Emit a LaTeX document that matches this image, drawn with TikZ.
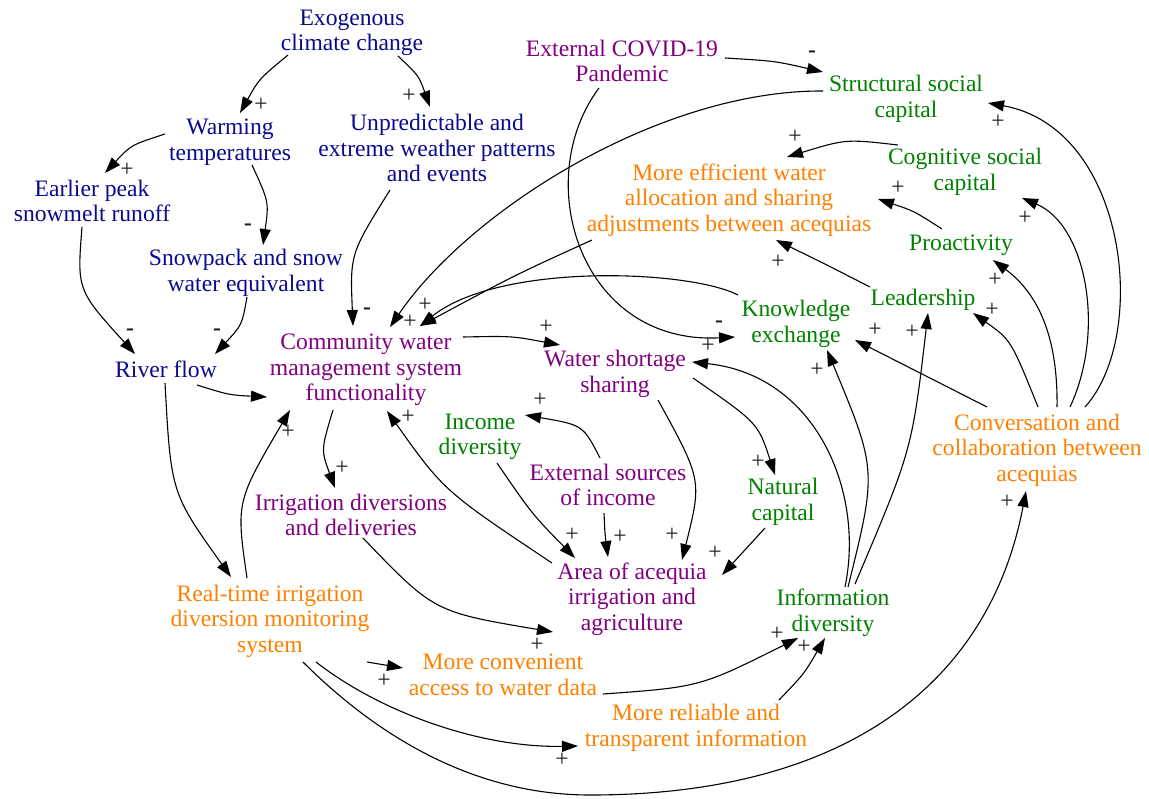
\documentclass[tikz,border=0pt]{standalone}
\usepackage{fontspec}
\setmainfont{Liberation Serif}
\usetikzlibrary{arrows.meta,calc}
\definecolor{cblue}{RGB}{10,10,140}
\definecolor{cpurple}{RGB}{128,0,128}
\definecolor{cgreen}{RGB}{0,128,0}
\definecolor{corange}{RGB}{255,128,0}
\definecolor{csign}{RGB}{30,30,30}
\begin{document}
\begin{tikzpicture}[x=0.5pt,y=-0.5pt,
  var/.style={align=center,inner sep=0pt,font=\fontsize{11.8}{12.8}\selectfont},
  vb/.style={var,text=cblue},
  vp/.style={var,text=cpurple},
  vg/.style={var,text=cgreen},
  vo/.style={var,text=corange},
  sg/.style={inner sep=0pt,text=csign,font=\fontsize{11.8}{12.8}\selectfont},
  lk/.style={draw=black,line width=0.55pt,-{Triangle[length=8pt,width=5.5pt]}}]
\useasboundingbox (0,0) rectangle (1149,798);
% nodes
\node[vb] (exo) at (352,33) {Exogenous\\climate change};
\node[vb] (warm) at (230,142) {Warming\\temperatures};
\node[vb] (unpred) at (437,148) {Unpredictable and\\extreme weather patterns\\and events};
\node[vb] (early) at (92,201) {Earlier peak\\snowmelt runoff};
\node[vb] (snow) at (246,273) {Snowpack and snow\\water equivalent};
\node[vb] (river) at (166,369) {River flow};
\node[vp] (covid) at (622,61) {External COVID-19\\Pandemic};
\node[vg] (struct) at (906,99) {Structural social\\capital};
\node[vg] (cog) at (965,172) {Cognitive social\\capital};
\node[vo] (eff) at (729,200) {More efficient water\\allocation and sharing\\adjustments between acequias};
\node[vg] (proact) at (961,245) {Proactivity};
\node[vg] (lead) at (923,300) {Leadership};
\node[vg] (know) at (796,324) {Knowledge\\exchange};
\node[vp] (comm) at (366,370) {Community water\\management system\\functionality};
\node[vp] (short) at (615,374) {Water shortage\\sharing};
\node[vg] (income) at (480,437) {Income\\diversity};
\node[vp] (extinc) at (608,485) {External sources\\of income};
\node[vg] (natural) at (783,502) {Natural\\capital};
\node[vo] (conv) at (1037,450) {Conversation and\\collaboration between\\acequias};
\node[vp] (irrig) at (351,515) {Irrigation diversions\\and deliveries};
\node[vp] (area) at (632,599) {Area of acequia\\irrigation and\\agriculture};
\node[vg] (info) at (833,613) {Information\\diversity};
\node[vo] (rt) at (270,621) {Real-time irrigation\\diversion monitoring\\system};
\node[vo] (conven) at (503,675) {More convenient\\access to water data};
\node[vo] (reliab) at (696,728) {More reliable and\\transparent information};
% connectors
\draw[lk] ($(exo)+(-64,22)$) .. controls (259,79) .. ($(warm)+(10,-29)$);
\draw[lk] ($(exo)+(46,23)$) .. controls (419,76) .. ($(unpred)+(-7,-41)$);
\draw[lk] ($(warm)+(-65,-8)$) .. controls (131,145) .. ($(early)+(13,-28)$);
\draw[lk] ($(warm)+(22,23)$) .. controls (269,202) .. ($(snow)+(17,-28)$);
\draw[lk] ($(early)+(-10,26)$) .. controls (77,290) .. ($(river)+(-31,-15)$);
\draw[lk] ($(snow)+(1,24)$) .. controls (242,325) .. ($(river)+(49,-15)$);
\draw[lk] ($(unpred)+(-47,42)$) .. controls (350,254) .. ($(comm)+(-13,-44)$);
\draw[lk] ($(river)+(31,16)$) .. controls (229,395) .. ($(comm)+(-99,27)$);
\draw[lk] ($(comm)+(97,-33)$) .. controls (512,336) .. ($(short)+(-55,-29)$);
\draw[lk] ($(comm)+(-33,40)$) .. controls (321,450) .. ($(irrig)+(-16,-27)$);
\draw[lk] ($(rt)+(-23,-43)$) .. controls (236,502) .. ($(comm)+(-76,40)$);
\draw[lk] ($(river)+(-1,14)$) .. controls (171,493) .. ($(rt)+(-39,-44)$);
\draw[lk] ($(irrig)+(12,23)$) .. controls (434,612) .. ($(area)+(-79,33)$);
\draw[lk] ($(area)+(-80,-36)$) .. controls (444,491) .. ($(comm)+(21,41)$);
\draw[lk] ($(income)+(17,26)$) .. controls (532,514) .. ($(area)+(-57,-41)$);
\draw[lk] ($(extinc)+(-8,-27)$) .. controls (583,425) .. ($(income)+(45,-22)$);
\draw[lk] ($(extinc)+(-4,28)$) .. controls (605,535) .. ($(area)+(-24,-42)$);
\draw[lk] ($(short)+(43,26)$) .. controls (702,480) .. ($(area)+(50,-39)$);
\draw[lk] ($(short)+(78,4)$) .. controls (758,423) .. ($(natural)+(-8,-27)$);
\draw[lk] ($(natural)+(-18,26)$) .. controls (743,552) .. ($(area)+(90,-24)$);
\draw[lk] ($(covid)+(-23,27)$) .. controls (530,180) and (580,345) .. ($(know)+(-61,13)$);
\draw[lk] ($(covid)+(103,-3)$) .. controls (775,61) .. ($(struct)+(-83,-27)$);
\draw[lk] ($(struct)+(-83,-8)$) .. controls (660,90) and (470,210) .. ($(comm)+(24,-43)$);
\draw[lk] ($(eff)+(-137,40)$) .. controls (515,275) .. ($(comm)+(54,-44)$);
\draw[lk] ($(know)+(-58,-29)$) .. controls (690,270) and (500,262) .. ($(comm)+(54,-44)$);
\draw[lk] ($(cog)+(-67,-27)$) .. controls (846,139) .. ($(eff)+(58,-43)$);
\draw[lk] ($(proact)+(-19,-16)$) .. controls (914,211) .. ($(cog)+(-87,27)$);
\draw[lk] ($(lead)+(-53,-13)$) .. controls (825,264) .. ($(eff)+(47,40)$);
\draw[lk] ($(conv)+(48,-43)$) .. controls (1150,335) and (1127,128) .. ($(struct)+(82,4)$);
\draw[lk] ($(conv)+(33,-43)$) .. controls (1106,330) and (1086,225) .. ($(cog)+(57,26)$);
\draw[lk] ($(conv)+(20,-43)$) .. controls (1058,340) and (1040,295) .. ($(proact)+(32,15)$);
\draw[lk] ($(conv)+(1,-43)$) .. controls (1011,340) .. ($(lead)+(50,13)$);
\draw[lk] ($(conv)+(-50,-43)$) .. controls (926,376) .. ($(know)+(59,16)$);
\draw[lk] ($(info)+(15,-26)$) .. controls (877,470) .. ($(know)+(31,26)$);
\draw[lk] ($(info)+(22,-29)$) .. controls (912,450) .. ($(lead)+(5,13)$);
\draw[lk] ($(info)+(12,-26)$) .. controls (865,490) and (815,375) .. ($(short)+(77,-12)$);
\draw[lk] ($(conven)+(100,19)$) .. controls (700,687) .. ($(info)+(-35,25)$);
\draw[lk] ($(reliab)+(83,-28)$) .. controls (804,674) .. ($(info)+(-8,25)$);
\draw[lk] ($(rt)+(97,41)$) -- ($(conven)+(-100,-7)$);
\draw[lk] ($(rt)+(46,41)$) .. controls (380,712) and (480,748) .. ($(reliab)+(-118,18)$);
\draw[lk] ($(rt)+(33,41)$) .. controls (373,732) and (470,795) .. (590,795)
  .. controls (850,795) and (990,680) .. ($(conv)+(-11,41)$);
% polarity signs
\node[sg] (p1) at (261,105) {+};
\node[sg] (p2) at (409,96) {+};
\node[sg] (p3) at (127,170) {+};
\node[sg] (p4) at (248,227) {\textbf{-}};
\node[sg] (p5) at (130,332) {\textbf{-}};
\node[sg] (p6) at (217,332) {\textbf{-}};
\node[sg] (p7) at (367,311) {\textbf{-}};
\node[sg] (p9) at (546,327) {+};
\node[sg] (p10) at (342,468) {+};
\node[sg] (p11) at (288,432) {+};
\node[sg] (p13) at (537,645) {+};
\node[sg] (p14) at (408,417) {+};
\node[sg] (p15) at (572,535) {+};
\node[sg] (p16) at (540,400) {+};
\node[sg] (p17) at (620,537) {+};
\node[sg] (p18) at (672,535) {+};
\node[sg] (p19) at (758,462) {+};
\node[sg] (p20) at (715,553) {+};
\node[sg] (p21) at (719,324) {\textbf{-}};
\node[sg] (p22) at (812,54) {\textbf{-}};
\node[sg] (p23) at (410,322) {+};
\node[sg] (p24) at (425,305) {+};
\node[sg] (p26) at (795,137) {+};
\node[sg] (p27) at (898,188) {+};
\node[sg] (p28) at (778,262) {+};
\node[sg] (p29) at (998,122) {+};
\node[sg] (p30) at (1025,218) {+};
\node[sg] (p31) at (995,280) {+};
\node[sg] (p32) at (992,310) {+};
\node[sg] (p33) at (875,330) {+};
\node[sg] (p34) at (817,370) {+};
\node[sg] (p35) at (912,332) {+};
\node[sg] (p36) at (708,346) {+};
\node[sg] (p37) at (777,634) {+};
\node[sg] (p38) at (804,647) {+};
\node[sg] (p39) at (384,681) {+};
\node[sg] (p40) at (562,760) {+};
\node[sg] (p41) at (1007,502) {+};
\end{tikzpicture}
\end{document}
